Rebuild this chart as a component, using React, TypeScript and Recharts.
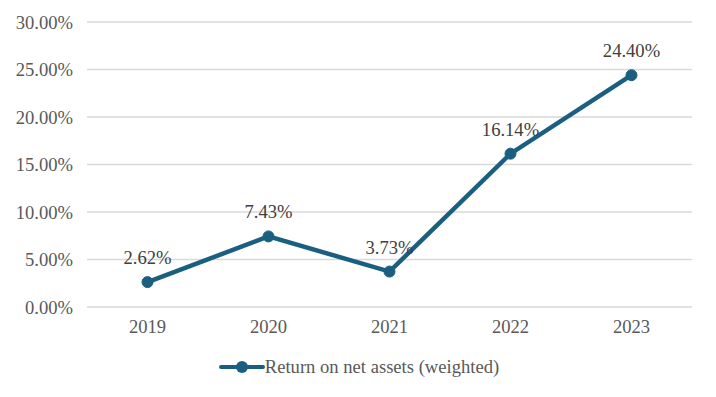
import React from "react";
import { LineChart, Line, XAxis, YAxis, CartesianGrid, Legend, LabelList } from "recharts";

const years = ["2019", "2020", "2021", "2022", "2023"];
const returnOnNetAssets = [2.62, 7.43, 3.73, 16.14, 24.4];
const yTicks = [0, 5, 10, 15, 20, 25, 30];
const seriesName = "Return on net assets (weighted)";

const data = years.map((y, i) => ({ year: y, value: returnOnNetAssets[i] }));

const COLOR = "#1b5f80";
const FONT = "'Liberation Serif', 'Times New Roman', serif";
const FS = 18.6;

const renderLegend = () => (
  <div style={{ display: "flex", justifyContent: "center", alignItems: "center", paddingLeft: 18, fontFamily: FONT, fontSize: FS, color: "#595959" }}>
    <svg width={46} height={14} style={{ marginRight: 0 }}>
      <line x1={2} y1={7} x2={44} y2={7} stroke={COLOR} strokeWidth={4} strokeLinecap="round" />
      <circle cx={23} cy={7} r={6} fill={COLOR} />
    </svg>
    <span>{seriesName}</span>
  </div>
);

export default function App() {
  return (
    <div style={{ width: 716, height: 397 }}>
      <LineChart width={716} height={397} data={data} margin={{ top: 14, right: 32, left: 0, bottom: 46 }}>
        <CartesianGrid vertical={false} stroke="#d9d9d9" strokeWidth={1.5} />
        <XAxis
          dataKey="year"
          scale="band"
          axisLine={false}
          tickLine={false}
          tickSize={0}
          tickMargin={13}
          tick={{ fill: "#595959", fontSize: FS, fontFamily: FONT }}
        />
        <YAxis
          width={79}
          domain={[0, 30]}
          ticks={yTicks}
          axisLine={false}
          tickLine={false}
          tickSize={0}
          tickMargin={14}
          tickFormatter={(v: number) => `${v.toFixed(2)}%`}
          tick={{ fill: "#595959", fontSize: FS, fontFamily: FONT }}
        />
        <Legend verticalAlign="bottom" content={renderLegend} wrapperStyle={{ bottom: 27 }} />
        <Line
          type="linear"
          dataKey="value"
          name={seriesName}
          stroke={COLOR}
          strokeWidth={4.5}
          dot={{ r: 5.5, fill: COLOR, stroke: COLOR, strokeWidth: 1 }}
          activeDot={false}
          isAnimationActive={false}
        >
          <LabelList
            dataKey="value"
            position="top"
            offset={18}
            formatter={(v: number) => `${v.toFixed(2)}%`}
            style={{ fill: "#404040", fontSize: FS, fontFamily: FONT }}
          />
        </Line>
      </LineChart>
    </div>
  );
}
